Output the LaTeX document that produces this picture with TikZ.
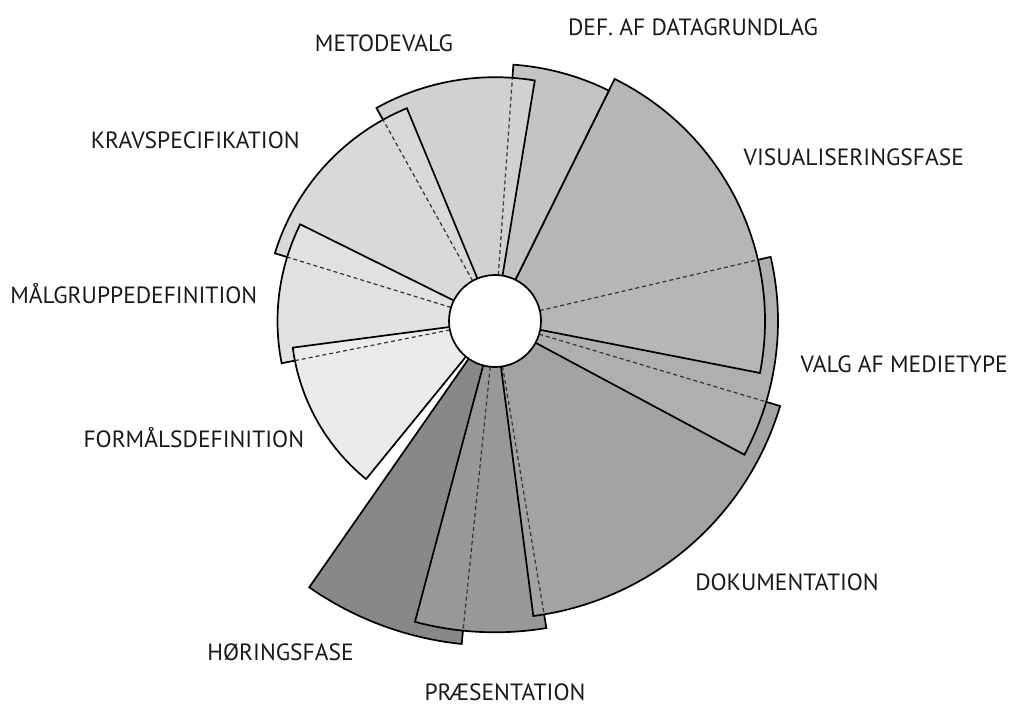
\documentclass[tikz,border=0pt]{standalone}
\usepackage{fontspec}
\setmainfont{PT Sans}
\definecolor{c1}{HTML}{EBEBEB}
\definecolor{c2}{HTML}{E1E1E1}
\definecolor{c3}{HTML}{D9D9D9}
\definecolor{c4}{HTML}{D1D1D1}
\definecolor{c5}{HTML}{C4C4C4}
\definecolor{c6}{HTML}{B6B6B6}
\definecolor{c7}{HTML}{AFAFAF}
\definecolor{c8}{HTML}{A3A3A3}
\definecolor{c9}{HTML}{989898}
\definecolor{c10}{HTML}{888888}
\newcommand\pieslice[4]{\filldraw[outl,fill=#4] (0,0) -- (#1:#3) arc[start angle=#1,end angle=#2,radius=#3] -- cycle;}
\newcommand\hiddenedge[2]{\draw[hid] (#1:46) -- (#1:#2);}
\begin{document}
\begin{tikzpicture}[x=1pt,y=1pt,
  outl/.style={draw=black,line width=1.7pt},
  hid/.style={draw=black!80,line width=1.2pt,dash pattern=on 4pt off 3pt},
  lbl/.style={font=\fontsize{23.5}{28}\selectfont,anchor=base,inner sep=0pt,text=black!90}]
\useasboundingbox (0,0) rectangle (1011,-707);
\begin{scope}[shift={(495,-321)}]
\pieslice{-124.9}{-95.9}{324.7}{c10}
\pieslice{-104.9}{-80.5}{311.3}{c9}
\pieslice{-82.6}{-16.6}{297.5}{c8}
\pieslice{-28.2}{13.1}{283}{c7}
\pieslice{-11.1}{63.7}{270}{c6}
\pieslice{63.7}{85.9}{257}{c5}
\pieslice{80.6}{119.1}{243.8}{c4}
\pieslice{112.5}{162.9}{230.3}{c3}
\pieslice{153.6}{191.2}{217.5}{c2}
\pieslice{187.5}{230.8}{204}{c1}
\hiddenedge{191.2}{204}
\hiddenedge{162.9}{217.5}
\hiddenedge{119.1}{230.3}
\hiddenedge{85.9}{243.8}
\hiddenedge{13.1}{270}
\hiddenedge{-16.6}{283}
\hiddenedge{-80.5}{297.5}
\hiddenedge{-95.9}{311.3}
\filldraw[outl,fill=white] (0,0) circle[radius=46];
\end{scope}
\node[lbl] (metode) at (384,-51) {METODEVALG};
\node[lbl] (def) at (693,-35) {DEF. AF DATAGRUNDLAG};
\node[lbl] (krav) at (195.3,-148.3) {KRAVSPECIFIKATION};
\node[lbl] (visual) at (853.8,-165) {VISUALISERINGSFASE};
\node[lbl] (maal) at (133.8,-303.3) {MÅLGRUPPEDEFINITION};
\node[lbl] (valg) at (904.2,-372.3) {VALG AF MEDIETYPE};
\node[lbl] (formaal) at (193.8,-447) {FORMÅLSDEFINITION};
\node[lbl] (dok) at (787,-590) {DOKUMENTATION};
\node[lbl] (hoering) at (280.5,-660) {HØRINGSFASE};
\node[lbl] (praes) at (505,-700.5) {PRÆSENTATION};
\end{tikzpicture}
\end{document}
